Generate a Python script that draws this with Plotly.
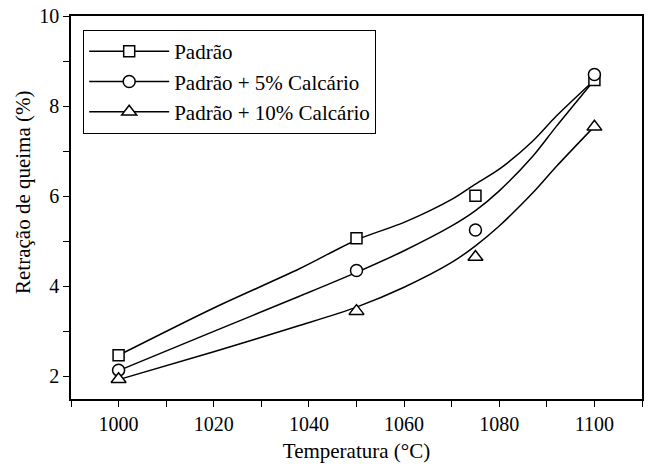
import plotly.graph_objects as go

# Measured points
temperatures = [1000, 1050, 1075, 1100]
padrao = [2.47, 5.07, 6.01, 8.58]
calcario_5 = [2.14, 4.35, 5.25, 8.70]
calcario_10 = [1.94, 3.45, 4.65, 7.54]

# Smooth fitted curves
curve_x = [1000, 1020, 1038, 1050, 1060, 1070, 1075, 1080, 1087, 1092, 1100]
curve_padrao = [2.47, 3.52, 4.39, 5.03, 5.42, 5.93, 6.27, 6.60, 7.22, 7.78, 8.58]
curve_cal5 = [2.13, 3.00, 3.78, 4.31, 4.79, 5.34, 5.68, 6.12, 6.88, 7.55, 8.58]
curve_cal10 = [1.93, 2.55, 3.13, 3.54, 3.98, 4.53, 4.90, 5.34, 6.07, 6.66, 7.55]

names = ["Padrão", "Padrão + 5% Calcário", "Padrão + 10% Calcário"]
symbols = ["square", "circle", "triangle-up"]
sizes = [11, 12, 13]

FONT = "Liberation Serif"

fig = go.Figure()

for cy in [curve_padrao, curve_cal5, curve_cal10]:
    fig.add_trace(go.Scatter(x=curve_x, y=cy, mode="lines",
                             line=dict(color="black", width=1.5, shape="spline", smoothing=0.8),
                             showlegend=False, hoverinfo="skip"))

for ys, sym, sz in zip([padrao, calcario_5, calcario_10], symbols, sizes):
    fig.add_trace(go.Scatter(x=temperatures, y=ys, mode="markers",
                             marker=dict(symbol=sym, size=sz, color="white",
                                         line=dict(color="black", width=1.5)),
                             showlegend=False))

for name, sym, sz in zip(names, symbols, sizes):
    fig.add_trace(go.Scatter(x=[None], y=[None], mode="lines+markers", name=name,
                             line=dict(color="black", width=1.5),
                             marker=dict(symbol=sym, size=sz, color="white",
                                         line=dict(color="black", width=1.5))))

fig.update_layout(
    width=649, height=464,
    margin=dict(l=71, r=5, t=16, b=63),
    paper_bgcolor="white", plot_bgcolor="white",
    font=dict(family=FONT, size=20, color="black"),
    showlegend=True,
    legend=dict(x=0.021, y=0.964, xanchor="left", yanchor="top",
                bordercolor="black", borderwidth=1.2, bgcolor="white",
                font=dict(family=FONT, size=21), itemwidth=80,
                tracegroupgap=0),
    annotations=[dict(text="Retração de queima (%)", textangle=-90,
                      xref="paper", yref="paper", x=-0.084, y=0.538,
                      xanchor="center", yanchor="middle", showarrow=False,
                      font=dict(family=FONT, size=21))],
)

fig.update_xaxes(range=[990, 1110], tickvals=[1000, 1020, 1040, 1060, 1080, 1100],
                 ticks="outside", ticklen=6, tickwidth=1.2, tickcolor="black",
                 showline=True, linecolor="black", linewidth=1.5, mirror=True,
                 showgrid=False, zeroline=False,
                 tickfont=dict(family=FONT, size=20),
                 minor=dict(dtick=10, tick0=990, ticks="outside", ticklen=6, tickwidth=1.2, tickcolor="black"),
                 title=dict(text="Temperatura (°C)", standoff=10, font=dict(family=FONT, size=21)))
fig.update_yaxes(range=[1.5, 10], tickvals=[2, 4, 6, 8, 10],
                 ticks="outside", ticklen=6, tickwidth=1.2, tickcolor="black",
                 showline=True, linecolor="black", linewidth=1.5, mirror=True,
                 showgrid=False, zeroline=False,
                 tickfont=dict(family=FONT, size=20),
                 minor=dict(dtick=1, tick0=0, ticks="outside", ticklen=6, tickwidth=1.2, tickcolor="black"))

fig.write_html("out.html")
